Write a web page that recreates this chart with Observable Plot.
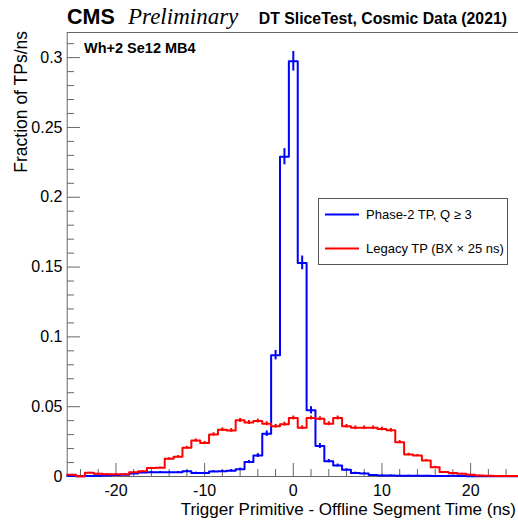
<!DOCTYPE html>
<html><head><meta charset="utf-8">
<script src="https://cdn.jsdelivr.net/npm/d3@7"></script>
<script src="https://cdn.jsdelivr.net/npm/@observablehq/plot@0.6"></script>
<style>
body{margin:0;background:#fff;}
#wrap{width:518px;height:525px;overflow:hidden;}
</style></head><body><div id="wrap"></div>
<script>
// ---- data ----
const binCenters = [-25,-24,-23,-22,-21,-20,-19,-18,-17,-16,-15,-14,-13,-12,-11,-10,-9,-8,-7,-6,-5,-4,-3,-2,-1,0,1,2,3,4,5,6,7,8,9,10,11,12,13,14,15,16,17,18,19,20,21,22,23,24,25];
const binWidth = 1;
const phase2 = [0.0003,0.0002,0.0003,0.0005,0.0008,0.0010,0.0012,0.0022,0.0028,0.0030,0.0030,0.0030,0.0030,0.0038,0.0025,0.0025,0.0036,0.0038,0.0042,0.0052,0.0103,0.0150,0.0306,0.0869,0.2290,0.2974,0.1530,0.0474,0.0218,0.0110,0.0079,0.0048,0.0025,0.0022,0.0010,0.0008,0.0008,0.0006,0.0006,0.0005,0.0005,0.0003,0.0003,0.0005,0.0003,0.0002,0.0002,0.0001,0.0001,0.0001,0.0001];
const phase2Err = [0.0002,0.0002,0.0002,0.0003,0.0003,0.0004,0.0004,0.0005,0.0006,0.0006,0.0006,0.0006,0.0006,0.0007,0.0006,0.0006,0.0007,0.0007,0.0008,0.0008,0.0011,0.0014,0.0020,0.0034,0.0058,0.0070,0.0049,0.0026,0.0018,0.0012,0.0010,0.0008,0.0006,0.0005,0.0004,0.0003,0.0003,0.0003,0.0003,0.0003,0.0003,0.0002,0.0002,0.0003,0.0002,0.0002,0.0002,0.0001,0.0001,0.0001,0.0001];
const legacy = [0.0012,0.0002,0.0026,0.0019,0.0017,0.0017,0.0017,0.0030,0.0037,0.0060,0.0062,0.0127,0.0141,0.0206,0.0258,0.0240,0.0301,0.0335,0.0330,0.0402,0.0387,0.0397,0.0378,0.0360,0.0375,0.0419,0.0350,0.0419,0.0414,0.0378,0.0419,0.0360,0.0349,0.0349,0.0349,0.0340,0.0331,0.0246,0.0158,0.0150,0.0115,0.0067,0.0032,0.0025,0.0020,0.0012,0.0008,0.0005,0.0003,0.0003,0.0003];
const legacyErr = [0.0003,0.0002,0.0004,0.0003,0.0003,0.0003,0.0003,0.0004,0.0004,0.0006,0.0006,0.0008,0.0009,0.0010,0.0011,0.0011,0.0012,0.0013,0.0013,0.0014,0.0014,0.0014,0.0014,0.0013,0.0014,0.0014,0.0013,0.0014,0.0014,0.0014,0.0014,0.0013,0.0013,0.0013,0.0013,0.0013,0.0013,0.0011,0.0009,0.0008,0.0007,0.0006,0.0004,0.0003,0.0003,0.0003,0.0002,0.0002,0.0002,0.0002,0.0002];
const xMajorTicks = [-20,-10,0,10,20];
const xMinorTicks = [-24,-22,-18,-16,-14,-12,-8,-6,-4,-2,2,4,6,8,12,14,16,18,22,24];
const yMajorTicks = [0,0.05,0.1,0.15,0.2,0.25,0.3];
const yMinorTicks = [0.01,0.02,0.03,0.04,0.06,0.07,0.08,0.09,0.11,0.12,0.13,0.14,0.16,0.17,0.18,0.19,0.21,0.22,0.23,0.24,0.26,0.27,0.28,0.29,0.31];
const seriesNames = ["Phase-2 TP, Q \u2265 3", "Legacy TP (BX \u00d7 25 ns)"];
const seriesColors = ["#0000ff", "#ff0000"];
const xTitle = "Trigger Primitive - Offline Segment Time (ns)";
const yTitle = "Fraction of TPs/ns";
const xDomain = [-25.5, 25.5];
const yDomain = [0, 0.318];

// ---- build ----
function stepPoints(values) {
  const pts = binCenters.map((c, i) => ({x: c - binWidth / 2, y: values[i]}));
  pts.push({x: binCenters[binCenters.length - 1] + binWidth / 2, y: values[values.length - 1]});
  return pts;
}
function errPoints(values, errs) {
  return binCenters.map((c, i) => ({x: c, lo: values[i] - errs[i], hi: values[i] + errs[i]}));
}
const font = "'Liberation Sans', Arial, Helvetica, sans-serif";
const axisCol = "#666";
const fmt = d => String(d);

const plot = Plot.plot({
  width: 518, height: 525,
  marginLeft: 67, marginRight: 0, marginTop: 32, marginBottom: 49,
  x: {domain: xDomain, range: [66.7, 518.9]},
  y: {domain: yDomain, range: [476, 32]},
  style: {fontFamily: font, fontSize: "16px", color: "#000", background: "#fff", overflow: "hidden"},
  marks: [
    Plot.axisX(xMinorTicks, {anchor: "bottom", tickSize: 7, dy: -7, tickFormat: () => "", label: null, stroke: axisCol}),
    Plot.axisX(xMajorTicks, {anchor: "bottom", tickSize: 13, dy: -13, tickFormat: () => "", label: null, stroke: axisCol}),
    Plot.axisX(xMajorTicks, {anchor: "bottom", tickSize: 0, tickPadding: 8, tickFormat: fmt, label: null, fill: "#000", fontSize: 16}),
    Plot.axisY(yMinorTicks, {anchor: "left", tickSize: 7, dx: 7, tickFormat: () => "", label: null, stroke: axisCol}),
    Plot.axisY(yMajorTicks, {anchor: "left", tickSize: 13, dx: 13, tickFormat: () => "", label: null, stroke: axisCol}),
    Plot.axisY(yMajorTicks, {anchor: "left", tickSize: 0, tickPadding: 5, tickFormat: fmt, label: null, fill: "#000", fontSize: 16}),
    Plot.ruleY([yDomain[0]], {stroke: axisCol}),
    Plot.ruleY([yDomain[1]], {stroke: axisCol}),
    Plot.ruleX([xDomain[0]], {stroke: axisCol}),
    Plot.line(stepPoints(phase2), {x: "x", y: "y", curve: "step-after", stroke: seriesColors[0], strokeWidth: 2}),
    Plot.ruleX(errPoints(phase2, phase2Err), {x: "x", y1: "lo", y2: "hi", stroke: seriesColors[0], strokeWidth: 2}),
    Plot.line(stepPoints(legacy), {x: "x", y: "y", curve: "step-after", stroke: seriesColors[1], strokeWidth: 2}),
    Plot.ruleX(errPoints(legacy, legacyErr), {x: "x", y1: "lo", y2: "hi", stroke: seriesColors[1], strokeWidth: 2})
  ]
});

const svg = d3.select(plot);
function addText(x, y, str, opts) {
  const t = svg.append("text").attr("x", x).attr("y", y).attr("text-anchor", opts.anchor || "start")
    .attr("font-family", opts.family || font).attr("font-size", opts.size).attr("fill", "#000").text(str);
  if (opts.bold) t.attr("font-weight", "bold");
  if (opts.italic) t.attr("font-style", "italic");
  if (opts.transform) t.attr("transform", opts.transform).attr("x", 0).attr("y", 0);
  return t;
}
addText(67, 24, "CMS", {size: 21.5, bold: true});
addText(128, 24, "Preliminary", {size: 23, italic: true, family: "'Liberation Serif', 'Times New Roman', serif"});
addText(507, 24, "DT SliceTest, Cosmic Data (2021)", {size: 15.8, bold: true, anchor: "end"});
addText(84, 53, "Wh+2 Se12 MB4", {size: 14.5, bold: true});
addText(516, 515, xTitle, {size: 17, anchor: "end"});
addText(0, 0, yTitle, {size: 17.5, anchor: "end", transform: "translate(27,31) rotate(-90)"});
const lg = svg.append("g");
lg.append("rect").attr("x", 318.5).attr("y", 198.5).attr("width", 189).attr("height", 66).attr("fill", "#fff").attr("stroke", "#555").attr("stroke-width", 1);
[214.5, 248.5].forEach((yy, i) => {
  lg.append("line").attr("x1", 325).attr("x2", 359).attr("y1", yy).attr("y2", yy).attr("stroke", seriesColors[i]).attr("stroke-width", 2);
  lg.append("text").attr("x", 366).attr("y", yy + 4.5).attr("text-anchor", "start").attr("font-family", font).attr("font-size", 13).attr("fill", "#000").text(seriesNames[i]);
});

document.getElementById("wrap").appendChild(plot);
</script>
</body></html>
